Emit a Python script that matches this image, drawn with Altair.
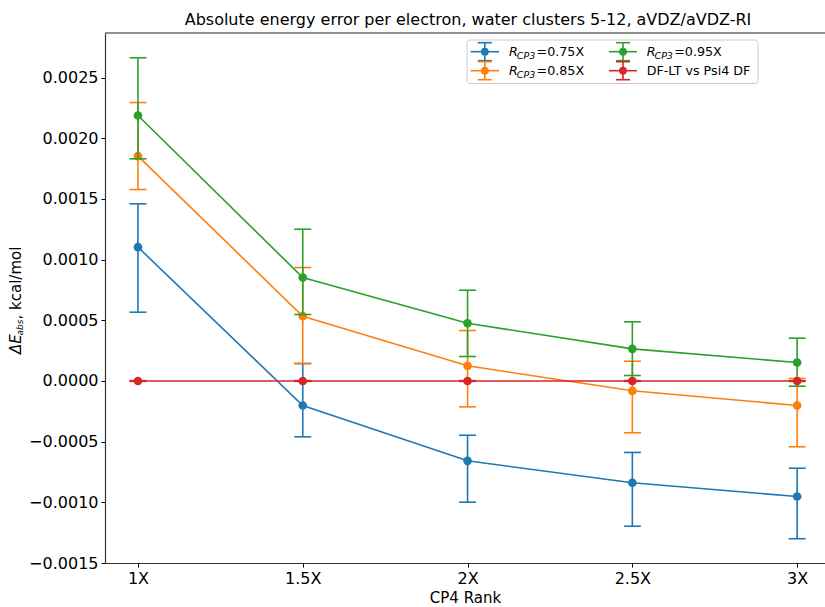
import altair as alt
import pandas as pd

# ---------------- data ----------------
ranks = ["1X", "1.5X", "2X", "2.5X", "3X"]
series_names = ["0.75X", "0.85X", "0.95X", "DF-LT vs Psi4 DF"]
colors = ["#1f77b4", "#ff7f0e", "#2ca02c", "#d62728"]

mean_075 = [0.001103, -0.000202, -0.000658, -0.000839, -0.000952]
low_075 = [0.000567, -0.000460, -0.000999, -0.001197, -0.001300]
high_075 = [0.001460, 0.000144, -0.000447, -0.000589, -0.000719]

mean_085 = [0.001853, 0.000534, 0.000125, -0.000081, -0.000202]
low_085 = [0.001578, 0.000144, -0.000213, -0.000427, -0.000542]
high_085 = [0.002295, 0.000935, 0.000416, 0.000163, 0.000021]

mean_095 = [0.002188, 0.000853, 0.000476, 0.000265, 0.000152]
low_095 = [0.001831, 0.000548, 0.000202, 0.000045, -0.000043]
high_095 = [0.002664, 0.001251, 0.000748, 0.000488, 0.000353]

mean_df = [0.0, 0.0, 0.0, 0.0, 0.0]
low_df = [-0.000003, -0.000003, -0.000003, -0.000003, -0.000003]
high_df = [0.000003, 0.000003, 0.000003, 0.000003, 0.000003]

y_ticks = [-0.0015, -0.0010, -0.0005, 0.0, 0.0005, 0.0010, 0.0015, 0.0020, 0.0025]

title_text = "Absolute energy error per electron, water clusters 5-12, aVDZ/aVDZ-RI"

all_series = [
    (mean_075, low_075, high_075),
    (mean_085, low_085, high_085),
    (mean_095, low_095, high_095),
    (mean_df, low_df, high_df),
]

rows = []
for name, (m, lo, hi) in zip(series_names, all_series):
    for i, r in enumerate(ranks):
        rows.append({"series": name, "pos": i, "rank": r, "mean": m[i], "low": lo[i], "high": hi[i]})
df = pd.DataFrame(rows)

# ---------------- layout ----------------
W, H = 720, 530
FONT = "DejaVu Sans"

label_expr = "[" + ",".join("'%s'" % r for r in ranks) + "][datum.value]"
xscale = alt.Scale(domain=[-0.2, 4.169], nice=False, zero=False)
yscale = alt.Scale(domain=[-0.0015, 0.002868], nice=False, zero=False)
xaxis = alt.Axis(values=list(range(len(ranks))), labelExpr=label_expr, title="CP4 Rank",
                 titleFontSize=15, titleFont=FONT, titleFontWeight="normal", titlePadding=4,
                 titleColor="black")
yaxis = alt.Axis(values=y_ticks, format=".4f", title=None)

X = alt.X("pos:Q", scale=xscale, axis=xaxis)

layers = []
for name, color in zip(series_names, colors):
    base = alt.Chart(df).transform_filter(alt.datum.series == name)
    bars = base.mark_rule(color=color, strokeWidth=1.6).encode(
        x=X, y=alt.Y("low:Q", scale=yscale, axis=yaxis), y2="high:Q")
    cap_lo = base.mark_rule(color=color, strokeWidth=1.6, xOffset=-8.5, x2Offset=8.5).encode(
        x=X, x2="pos:Q", y=alt.Y("low:Q", scale=yscale, axis=yaxis))
    cap_hi = base.mark_rule(color=color, strokeWidth=1.6, xOffset=-8.5, x2Offset=8.5).encode(
        x=X, x2="pos:Q", y=alt.Y("high:Q", scale=yscale, axis=yaxis))
    line = base.mark_line(color=color, strokeWidth=1.6).encode(
        x=X, y=alt.Y("mean:Q", scale=yscale, axis=yaxis))
    pts = base.mark_circle(color=color, size=75, opacity=1).encode(
        x=X, y=alt.Y("mean:Q", scale=yscale, axis=yaxis))
    layers += [bars, cap_lo, cap_hi, line, pts]

one = pd.DataFrame({"d": [0]})

def val_text(txt, x, y, size, italic=False, angle=0, align="left", baseline="alphabetic"):
    kw = dict(text=txt, fontSize=size, font=FONT, align=align, baseline=baseline, color="black")
    if italic:
        kw["fontStyle"] = "italic"
    if angle:
        kw["angle"] = angle
    return alt.Chart(one).mark_text(**kw).encode(x=alt.value(x), y=alt.value(y))

# top spine
layers.append(alt.Chart(one).mark_rule(color="#222", strokeWidth=1.2).encode(
    x=alt.value(0), x2=alt.value(W), y=alt.value(0)))

# title
layers.append(val_text(title_text, 363, -8, 16, align="center"))

# y-axis title  (ΔE_abs, kcal/mol) rotated
layers.append(val_text("ΔE", -84, 321, 15, italic=True, angle=270))
layers.append(val_text("abs", -82, 302.5, 9, italic=True, angle=270))
layers.append(val_text(", kcal/mol", -84, 286.5, 15, angle=270))

# legend box
layers.append(alt.Chart(one).mark_rect(fill="white", fillOpacity=0.8, stroke="#cccccc",
                                       strokeWidth=1, cornerRadius=3).encode(
    x=alt.value(362), x2=alt.value(653), y=alt.value(7), y2=alt.value(50.5)))

legend_rows = [18.7, 37.7]
col_line = [(365.7, 394.0, 379.8, 404.0), (504.0, 532.0, 518.0, 541.7)]
legend_pos = {0: (0, 0), 1: (0, 1), 2: (1, 0), 3: (1, 1)}
for idx, (name, color) in enumerate(zip(series_names, colors)):
    c, r = legend_pos[idx]
    x0, x1, xm, xt = col_line[c]
    yc = legend_rows[r]
    layers.append(alt.Chart(one).mark_rule(color=color, strokeWidth=1.6).encode(
        x=alt.value(x0), x2=alt.value(x1), y=alt.value(yc)))
    layers.append(alt.Chart(one).mark_rule(color=color, strokeWidth=1.6).encode(
        x=alt.value(xm), y=alt.value(yc - 9), y2=alt.value(yc + 9)))
    for yy in (yc - 9, yc + 9):
        layers.append(alt.Chart(one).mark_rule(color=color, strokeWidth=1.6).encode(
            x=alt.value(xm - 7), x2=alt.value(xm + 7), y=alt.value(yy)))
    layers.append(alt.Chart(one).mark_circle(color=color, size=60, opacity=1).encode(
        x=alt.value(xm), y=alt.value(yc)))
    yb = yc + 4.4
    if name.startswith("DF"):
        layers.append(val_text(name, xt, yb, 12.7))
    else:
        layers.append(val_text("R", xt, yb, 12.7, italic=True))
        layers.append(val_text("CP3", xt + 7.8, yb + 2.6, 9.5, italic=True))
        layers.append(val_text("=" + name, xt + 27.5, yb, 12.7))

chart = alt.layer(*layers).properties(
    width=W, height=H,
    autosize=alt.AutoSizeParams(type="none"),
    padding={"left": 105, "top": 33, "right": 0, "bottom": 44},
).configure_view(stroke=None).configure_axis(
    grid=False, domainColor="#333", domainWidth=1.2, tickColor="black", tickSize=4,
    labelColor="black", labelFont=FONT, labelFontSize=16, labelPadding=3,
)

chart.save("out.html", embed_options={"renderer": "svg", "actions": False})
